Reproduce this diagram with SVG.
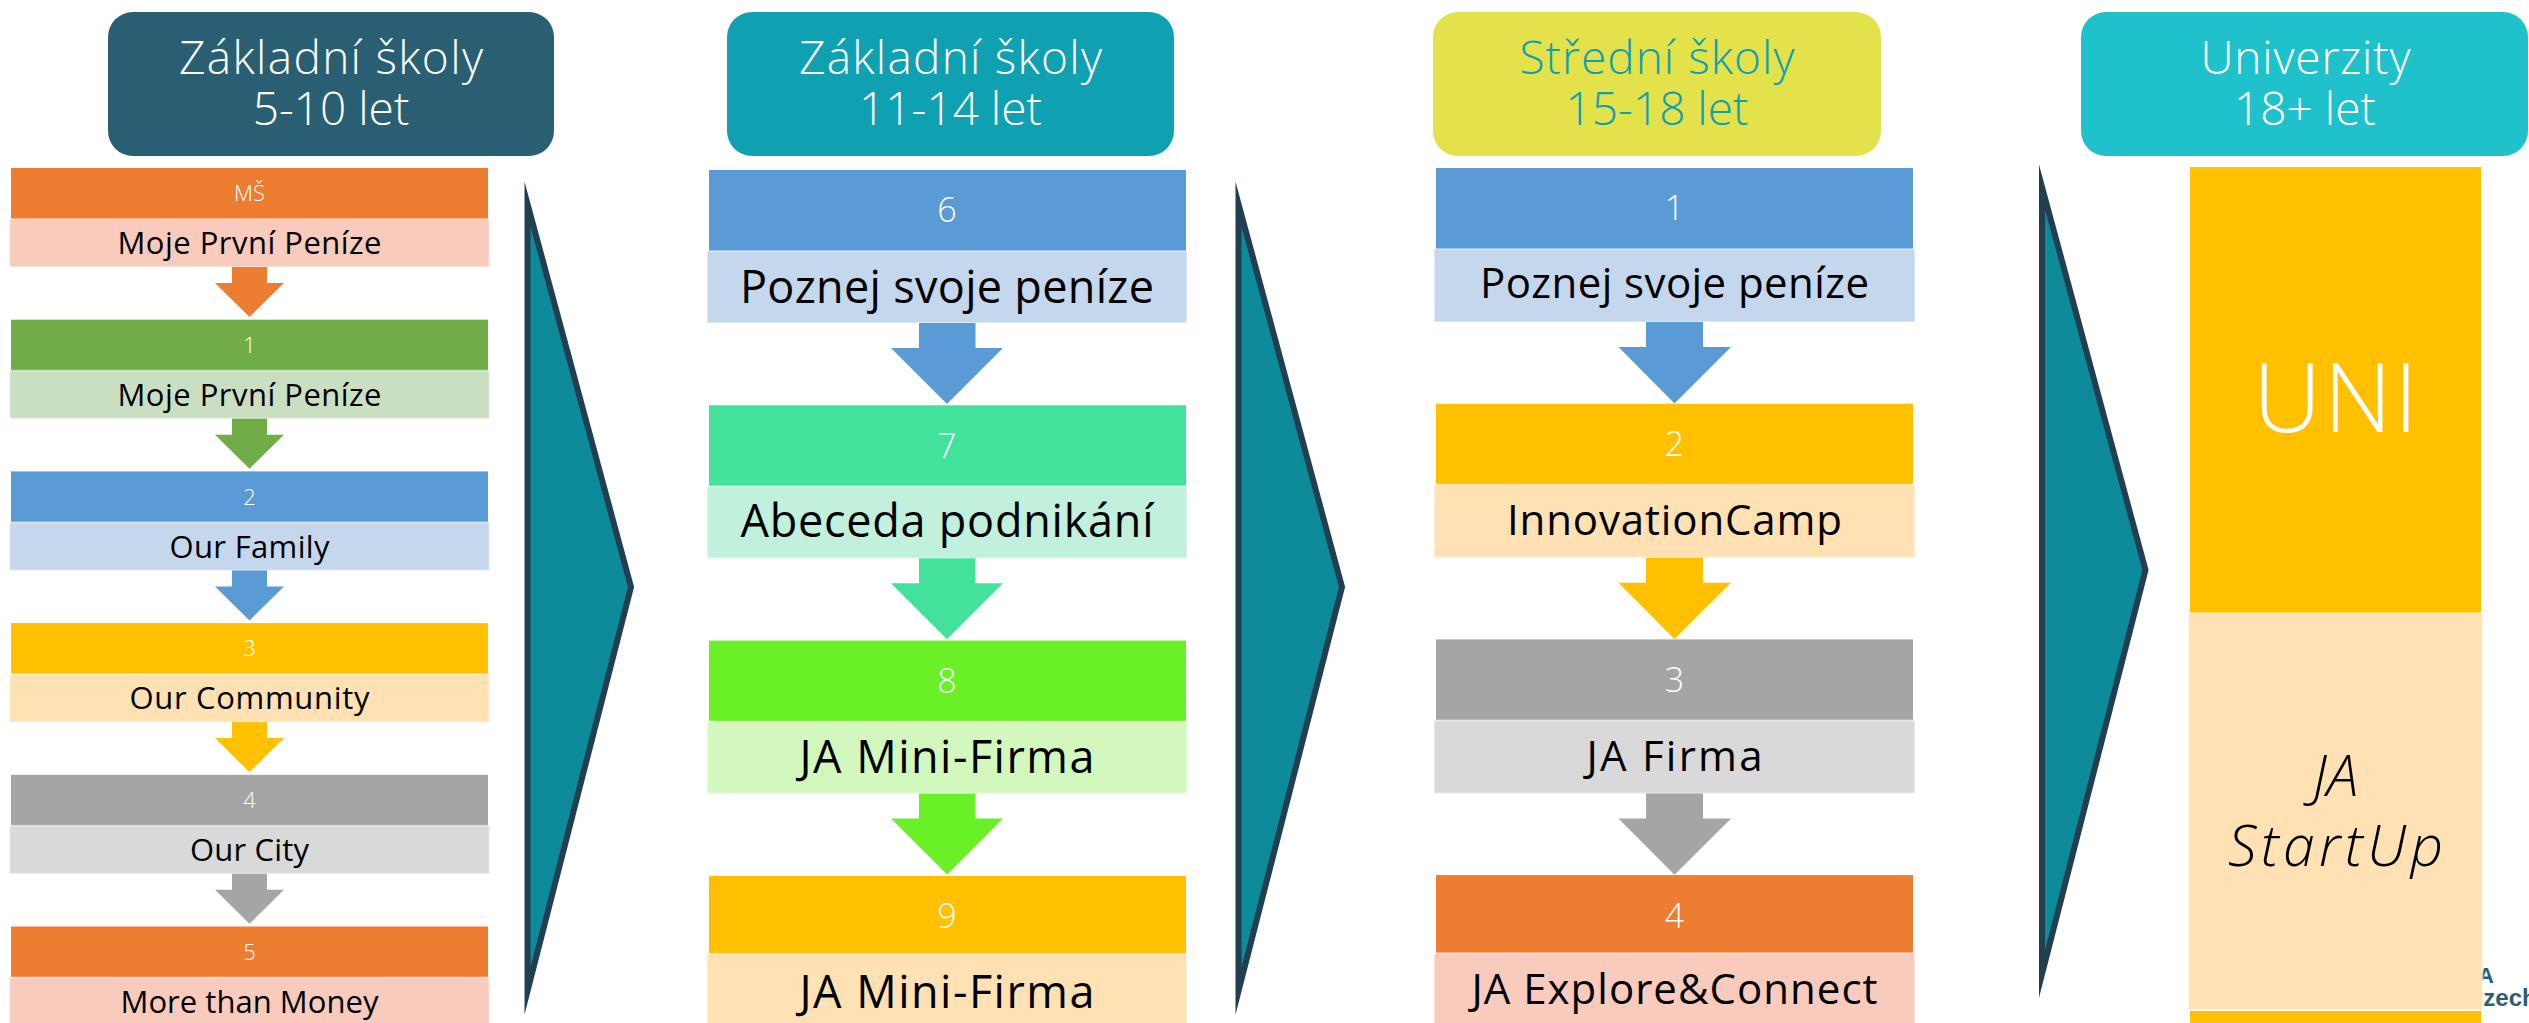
<svg xmlns="http://www.w3.org/2000/svg" width="2529" height="1023" viewBox="0 0 2529 1023">
<style>
.hd{font-family:"Open Sans","Liberation Sans",sans-serif;font-weight:300;font-size:46px;text-anchor:middle}
.n1{font-family:"Open Sans","Liberation Sans",sans-serif;font-weight:300;font-size:22px;fill:#fff;text-anchor:middle}
.l1{font-family:"Open Sans","Liberation Sans",sans-serif;font-weight:400;font-size:31px;fill:#000;text-anchor:middle}
.n2{font-family:"Open Sans","Liberation Sans",sans-serif;font-weight:300;font-size:34px;fill:#fff;text-anchor:middle}
.l2{font-family:"Open Sans","Liberation Sans",sans-serif;font-weight:400;font-size:45px;fill:#000;text-anchor:middle}
.l3{font-family:"Open Sans","Liberation Sans",sans-serif;font-weight:400;font-size:42px;fill:#000;text-anchor:middle}
.lt{stroke:#ffffff;stroke-opacity:0.4;stroke-width:2}
.chev{fill:#0d8b9a;stroke:#213f4e;stroke-width:6;stroke-miterlimit:12}
.logo{font-family:"Liberation Sans",Arial,sans-serif;font-weight:bold;fill:#2a5f73}
</style>
<rect width="2529" height="1023" fill="#ffffff"/>

<!-- logo (mostly hidden) -->
<g id="logo">
<text class="logo" x="2494" y="983" font-size="22" text-anchor="end">JA</text>
<text class="logo" x="2466" y="1006" font-size="24">Czech</text>
</g>

<!-- headers -->
<g id="header-zs1">
<rect x="108" y="12" width="446" height="144" rx="25" fill="#2a5f73"/>
<text class="hd" x="331" y="74" fill="#ffffff" textLength="304" lengthAdjust="spacing">Základní školy</text>
<text class="hd" x="331" y="125" fill="#ffffff">5-10 let</text>
</g>
<g id="header-zs2">
<rect x="727" y="12" width="447" height="144" rx="25" fill="#0fa1b1"/>
<text class="hd" x="950.5" y="74" fill="#ffffff" textLength="303" lengthAdjust="spacing">Základní školy</text>
<text class="hd" x="950.5" y="125" fill="#ffffff">11-14 let</text>
</g>
<g id="header-ss">
<rect x="1433" y="12" width="448" height="144" rx="25" fill="#e3e24b"/>
<text class="hd" x="1657" y="74" fill="#0fa0b0" textLength="275" lengthAdjust="spacing">Střední školy</text>
<text class="hd" x="1657" y="125" fill="#0fa0b0">15-18 let</text>
</g>
<g id="header-uni">
<rect x="2081" y="12" width="447" height="144" rx="25" fill="#1fc2cb"/>
<text class="hd" x="2305.5" y="74" fill="#ffffff" textLength="210" lengthAdjust="spacing">Univerzity</text>
<text class="hd" x="2305" y="125" fill="#ffffff">18+ let</text>
</g>

<!-- column 1 -->
<g id="c1-ms">
<rect x="11" y="168" width="477" height="51" fill="#ed7d31"/>
<rect class="lt" x="9.5" y="219" width="480" height="48" fill="#f8cbbd"/>
<text class="n1" x="249.5" y="201">MŠ</text>
<text class="l1" x="249.5" y="254" textLength="264" lengthAdjust="spacing">Moje První Peníze</text>
</g>
<g id="c1-1">
<rect x="11" y="319.7" width="477" height="51" fill="#70ad47"/>
<rect class="lt" x="9.5" y="370.7" width="480" height="48" fill="#cadfc1"/>
<text class="n1" x="249.5" y="353">1</text>
<text class="l1" x="249.5" y="406" textLength="264" lengthAdjust="spacing">Moje První Peníze</text>
</g>
<g id="c1-2">
<rect x="11" y="471.4" width="477" height="51" fill="#5b9bd5"/>
<rect class="lt" x="9.5" y="522.4" width="480" height="48" fill="#c5d7ed"/>
<text class="n1" x="249.5" y="504.5">2</text>
<text class="l1" x="249.5" y="557.5" textLength="160" lengthAdjust="spacing">Our Family</text>
</g>
<g id="c1-3">
<rect x="11" y="623.1" width="477" height="51" fill="#ffc000"/>
<rect class="lt" x="9.5" y="674.1" width="480" height="48" fill="#ffe1b4"/>
<text class="n1" x="249.5" y="656">3</text>
<text class="l1" x="249.5" y="709" textLength="240" lengthAdjust="spacing">Our Community</text>
</g>
<g id="c1-4">
<rect x="11" y="774.8" width="477" height="51" fill="#a5a5a5"/>
<rect class="lt" x="9.5" y="825.8" width="480" height="48" fill="#d9d9d9"/>
<text class="n1" x="249.5" y="808">4</text>
<text class="l1" x="249.5" y="861" textLength="119" lengthAdjust="spacing">Our City</text>
</g>
<g id="c1-5">
<rect x="11" y="926.5" width="477" height="51" fill="#ed7d31"/>
<rect class="lt" x="9.5" y="977.5" width="480" height="50" fill="#f8cbbd"/>
<text class="n1" x="249.5" y="959.5">5</text>
<text class="l1" x="249.5" y="1012.5" textLength="258" lengthAdjust="spacing">More than Money</text>
</g>

<!-- column 2 -->
<g id="c2-6">
<rect x="709" y="170" width="477" height="81" fill="#5b9bd5"/>
<rect class="lt" x="707" y="251" width="480" height="72" fill="#c5d7ed"/>
<text class="n2" x="947" y="222">6</text>
<text class="l2" x="947" y="303" textLength="414" lengthAdjust="spacing">Poznej svoje peníze</text>
</g>
<g id="c2-7">
<rect x="709" y="405.3" width="477" height="81" fill="#42e29c"/>
<rect class="lt" x="707" y="486.3" width="480" height="72" fill="#c1f1dc"/>
<text class="n2" x="947" y="457.5">7</text>
<text class="l2" x="947" y="537" textLength="413" lengthAdjust="spacing">Abeceda podnikání</text>
</g>
<g id="c2-8">
<rect x="709" y="640.6" width="477" height="81" fill="#6af026"/>
<rect class="lt" x="707" y="721.6" width="480" height="72" fill="#d3f8be"/>
<text class="n2" x="947" y="692.8">8</text>
<text class="l2" x="947" y="772.5" textLength="295" lengthAdjust="spacing">JA Mini-Firma</text>
</g>
<g id="c2-9">
<rect x="709" y="875.9" width="477" height="78" fill="#ffc000"/>
<rect class="lt" x="707" y="953.9" width="480" height="75" fill="#ffe1b4"/>
<text class="n2" x="947" y="928">9</text>
<text class="l2" x="947" y="1008" textLength="295" lengthAdjust="spacing">JA Mini-Firma</text>
</g>

<!-- column 3 -->
<g id="c3-1">
<rect x="1436" y="168" width="477" height="81" fill="#5b9bd5"/>
<rect class="lt" x="1434" y="249" width="481" height="73" fill="#c5d7ed"/>
<text class="n2" x="1674.5" y="220">1</text>
<text class="l3" x="1674.5" y="298" textLength="389" lengthAdjust="spacing">Poznej svoje peníze</text>
</g>
<g id="c3-2">
<rect x="1436" y="403.7" width="477" height="81" fill="#ffc000"/>
<rect class="lt" x="1434" y="484.7" width="481" height="73" fill="#ffe1b4"/>
<text class="n2" x="1674.5" y="456">2</text>
<text class="l3" x="1674.5" y="535" textLength="335" lengthAdjust="spacing">InnovationCamp</text>
</g>
<g id="c3-3">
<rect x="1436" y="639.4" width="477" height="81" fill="#a5a5a5"/>
<rect class="lt" x="1434" y="720.4" width="481" height="73" fill="#d9d9d9"/>
<text class="n2" x="1674.5" y="691.5">3</text>
<text class="l3" x="1674.5" y="770.5" textLength="176" lengthAdjust="spacing">JA Firma</text>
</g>
<g id="c3-4">
<rect x="1436" y="875.1" width="477" height="78" fill="#ed7d31"/>
<rect class="lt" x="1434" y="953.1" width="481" height="75" fill="#f8cbbd"/>
<text class="n2" x="1674.5" y="927.5">4</text>
<text class="l3" x="1674.5" y="1004" textLength="406" lengthAdjust="spacing">JA Explore&amp;Connect</text>
</g>

<!-- column 4 -->
<g id="c4-uni">
<rect x="2190" y="167" width="291" height="446" fill="#ffc000"/>
<text x="2335.5" y="432" font-family="Open Sans, Liberation Sans, sans-serif" font-weight="300" font-size="95" fill="#ffffff" text-anchor="middle" textLength="165" lengthAdjust="spacing">UNI</text>
</g>
<g id="c4-startup">
<rect x="2188.5" y="613" width="294" height="397" fill="#ffe1b4" stroke="#ffffff" stroke-opacity="0.4" stroke-width="2"/>
<text x="2335.5" y="796" font-family="Open Sans, Liberation Sans, sans-serif" font-weight="300" font-style="italic" font-size="57" fill="#000" text-anchor="middle">JA</text>
<text x="2335.5" y="866" font-family="Open Sans, Liberation Sans, sans-serif" font-weight="300" font-style="italic" font-size="57" fill="#000" text-anchor="middle" textLength="215" lengthAdjust="spacing">StartUp</text>
</g>
<g id="c4-bottom">
<rect x="2190" y="1011" width="291" height="14" fill="#ffc000"/>
</g>

<!-- stage chevrons -->
<g id="stage-arrows">
<polygon class="chev" points="527.5,204 631,587 527.5,991"/>
<polygon class="chev" points="1238.5,204 1342,587 1238.5,991"/>
<polygon class="chev" points="2042,187 2145.5,570 2042,974"/>
</g>

<!-- connectors -->
<g id="connectors">
<g fill="#ed7d31"><rect x="232" y="267" width="35" height="17"/><polygon points="215,283 284,283 249.5,317"/></g>
<g fill="#70ad47"><rect x="232" y="418.7" width="35" height="17"/><polygon points="215,434.7 284,434.7 249.5,468.7"/></g>
<g fill="#5b9bd5"><rect x="232" y="570.4" width="35" height="17"/><polygon points="215,586.4 284,586.4 249.5,620.4"/></g>
<g fill="#ffc000"><rect x="232" y="722.1" width="35" height="17"/><polygon points="215,738.1 284,738.1 249.5,772.1"/></g>
<g fill="#a5a5a5"><rect x="232" y="873.8" width="35" height="17"/><polygon points="215,889.8 284,889.8 249.5,923.8"/></g>

<g fill="#5b9bd5"><rect x="919" y="323" width="56.5" height="26"/><polygon points="891,348 1003,348 947,404"/></g>
<g fill="#42e29c"><rect x="919" y="558.3" width="56.5" height="26"/><polygon points="891,583.3 1003,583.3 947,639.3"/></g>
<g fill="#6af026"><rect x="919" y="793.6" width="56.5" height="26"/><polygon points="891,818.6 1003,818.6 947,874.6"/></g>

<g fill="#5b9bd5"><rect x="1646" y="322" width="57" height="26"/><polygon points="1618.5,347 1731,347 1674.5,403.5"/></g>
<g fill="#ffc000"><rect x="1646" y="557.7" width="57" height="26"/><polygon points="1618.5,582.7 1731,582.7 1674.5,639"/></g>
<g fill="#a5a5a5"><rect x="1646" y="793.4" width="57" height="26"/><polygon points="1618.5,818.4 1731,818.4 1674.5,874.7"/></g>
</g>
</svg>
